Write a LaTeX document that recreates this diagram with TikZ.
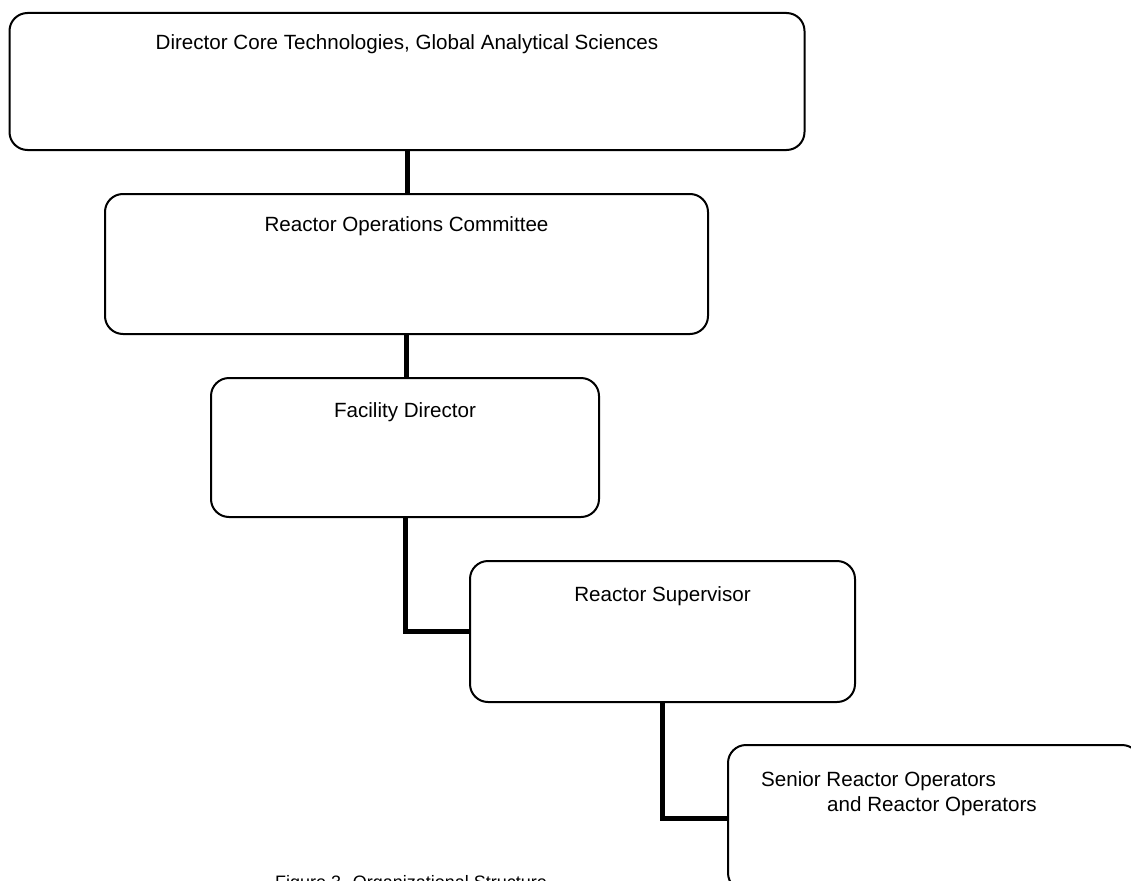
\documentclass[tikz,border=0pt]{standalone}
\usepackage{fontspec}
\setmainfont{Liberation Sans}
\begin{document}
\begin{tikzpicture}[x=1pt,y=-1pt,
    box/.style={draw,line width=2pt,rounded corners=18pt,inner sep=0pt},
    txt/.style={inner sep=0pt,font=\fontsize{20.6}{25}\selectfont},
    link/.style={line width=5pt}]
  \useasboundingbox (0,0) rectangle (1131,880);
  \clip (0,0) rectangle (1131,880);

  \node[box,minimum width=795pt,minimum height=137pt] (dir) at (407,81.5) {};
  \node[box,minimum width=603pt,minimum height=140pt] (roc) at (406.5,264) {};
  \node[box,minimum width=388pt,minimum height=139pt] (fd) at (405,447.5) {};
  \node[box,minimum width=385pt,minimum height=141pt] (rs) at (662.5,631.5) {};
  \node[box,minimum width=412pt,minimum height=146pt] (sro) at (934,818) {};

  \node[txt,anchor=base] (dirtext) at ([yshift=-38pt]dir.north) {Director Core Technologies, Global Analytical Sciences};
  \node[txt,anchor=base] (roctext) at ([yshift=-38pt]roc.north) {Reactor Operations Committee};
  \node[txt,anchor=base] (fdtext) at ([yshift=-40pt]fd.north) {Facility Director};
  \node[txt,anchor=base] (rstext) at ([yshift=-41pt]rs.north) {Reactor Supervisor};
  \node[txt,anchor=north west,align=left] (srotext) at ([xshift=34pt,yshift=-27pt]sro.north west)
    {Senior Reactor Operators\\\hspace*{66pt}and Reactor Operators};

  \draw[link] (dir.south) -- (dir.south |- roc.north);
  \draw[link] (roc.south) -- (roc.south |- fd.north);
  \draw[link] (fd.south) |- (rs.west);
  \draw[link] (rs.south) |- (sro.west);

  \node[anchor=base west,inner sep=0pt,font=\fontsize{18}{22}\selectfont] (caption) at (275,888) {Figure 3. Organizational Structure};
\end{tikzpicture}
\end{document}
